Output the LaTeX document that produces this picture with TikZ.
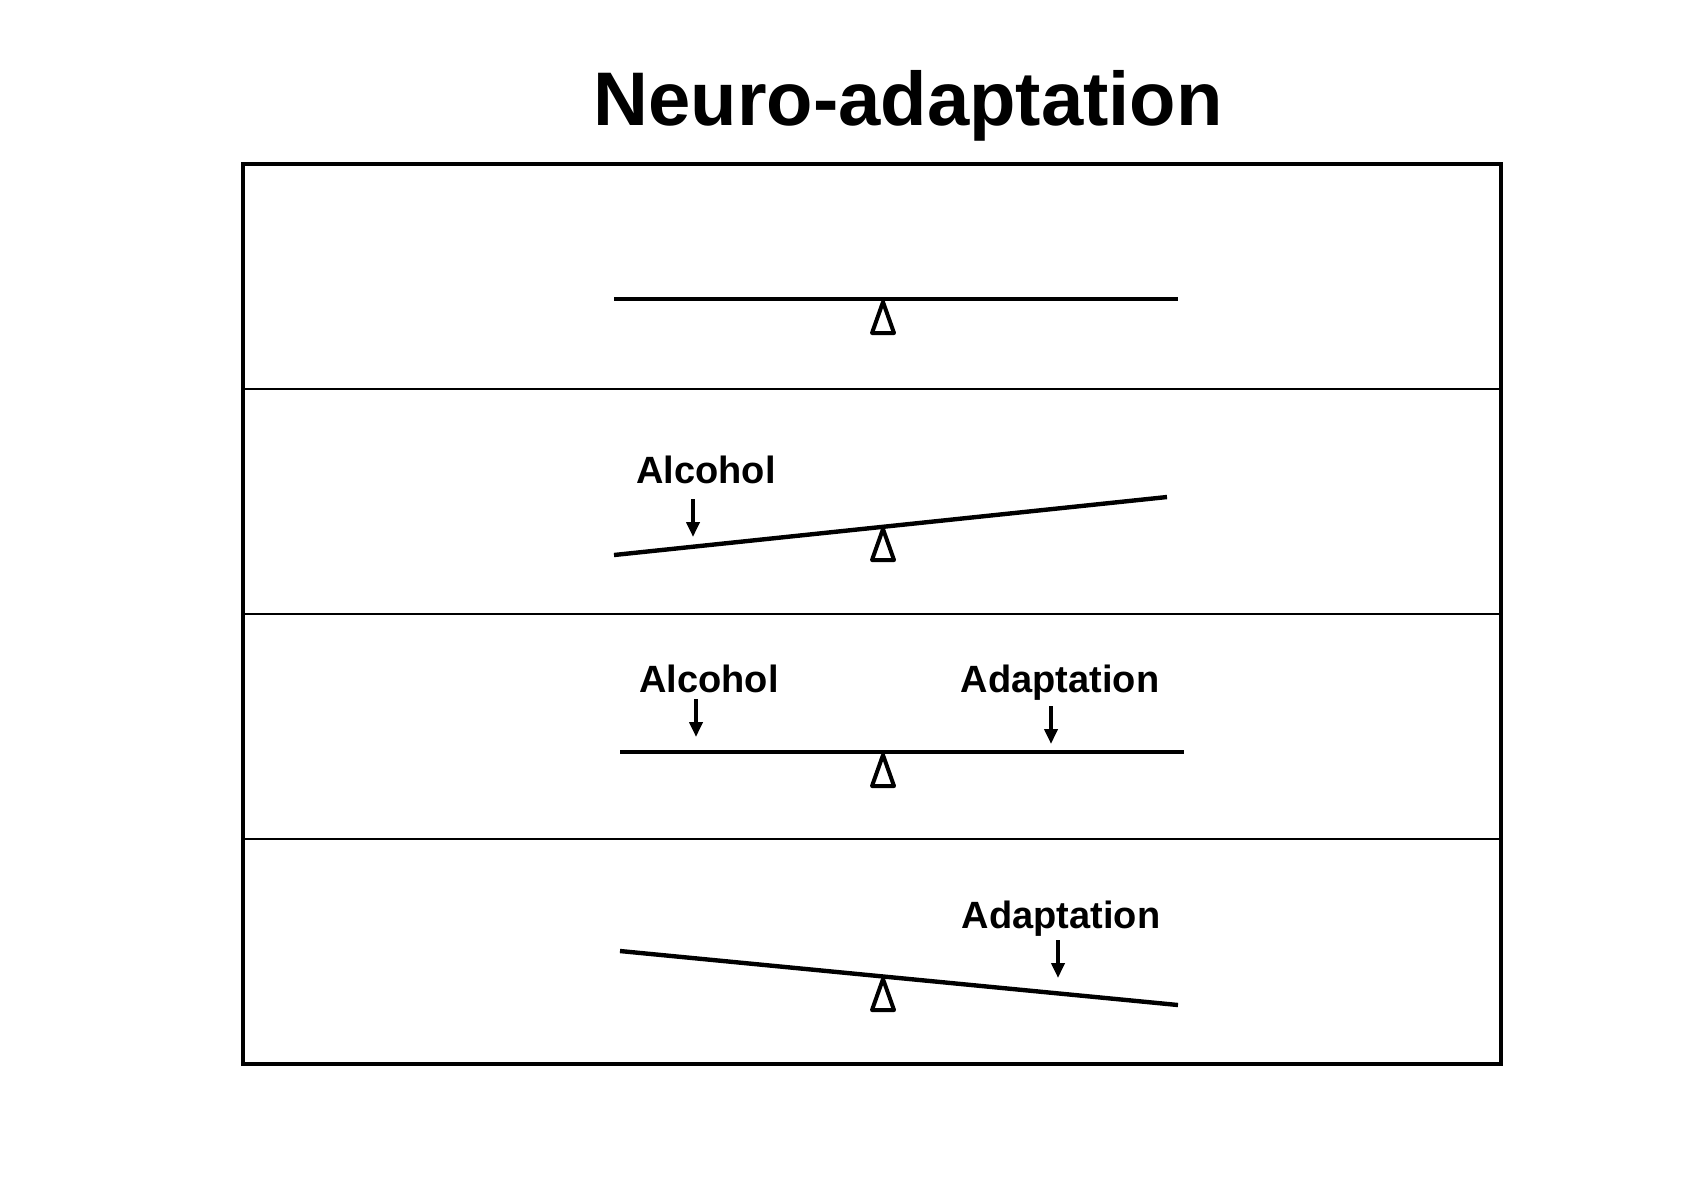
\documentclass[tikz,border=0pt]{standalone}
\usepackage{fontspec}
\setmainfont{Liberation Sans}
\usetikzlibrary{arrows.meta}

\newcommand{\fulcrum}[1]{\draw[pivot] (#1) -- ++(-11,31) -- ++(22,0) -- cycle;}

\begin{document}
\begin{tikzpicture}[x=0.5pt,y=-0.5pt,
  frame/.style={line width=1.6pt},
  divider/.style={line width=0.8pt},
  beam/.style={line width=2.2pt},
  pivot/.style={line width=2pt,line join=round},
  push/.style={line width=2pt,-{Triangle[length=7.5pt,width=6.5pt]}},
  tag/.style={font=\bfseries\fontsize{19}{22}\selectfont,anchor=base}]
  \useasboundingbox (0,0) rectangle (1684,1191);

  \node[font=\bfseries\fontsize{38}{44}\selectfont,anchor=base] (title) at (908,125) {Neuro-adaptation};

  % frame and rows
  \draw[frame] (243,164) rectangle (1501,1064);
  \foreach \y in {389,614,839}
    \draw[divider] (243,\y) -- (1501,\y);

  % beams
  \coordinate (L1) at (614,299);  \coordinate (R1) at (1178,299);
  \coordinate (L2) at (614,555);  \coordinate (R2) at (1167,497);
  \coordinate (L3) at (620,752);  \coordinate (R3) at (1184,752);
  \coordinate (L4) at (620,951);  \coordinate (R4) at (1178,1005);

  \coordinate (P1) at (883,302);
  \coordinate (P2) at (883,529);
  \coordinate (P3) at (883,755);
  \coordinate (P4) at (883,979);

  \fulcrum{P1}
  \fulcrum{P2}
  \fulcrum{P3}
  \fulcrum{P4}

  \draw[beam] (L1) -- (R1);
  \draw[beam] (L2) -- (R2);
  \draw[beam] (L3) -- (R3);
  \draw[beam] (L4) -- (R4);

  % labels
  \node[tag] (alc2) at (706,483) {Alcohol};
  \node[tag] (alc3) at (709,692) {Alcohol};
  \node[tag] (ada3) at (1060,692) {Adaptation};
  \node[tag] (ada4) at (1061,928) {Adaptation};

  \coordinate (a2) at (693,499);   \coordinate (b2) at (693,537);
  \coordinate (a3) at (696,699);   \coordinate (b3) at (696,737);
  \coordinate (c3) at (1051,706);  \coordinate (d3) at (1051,744);
  \coordinate (c4) at (1058,940);  \coordinate (d4) at (1058,978);

  \draw[push] (a2) -- (b2);
  \draw[push] (a3) -- (b3);
  \draw[push] (c3) -- (d3);
  \draw[push] (c4) -- (d4);
\end{tikzpicture}
\end{document}
